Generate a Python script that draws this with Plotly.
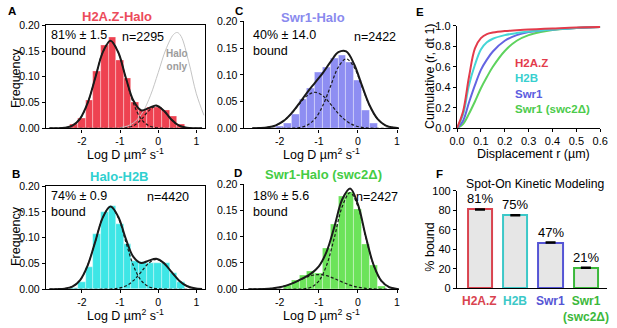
import plotly.graph_objects as go

W, H = 617, 328
FONT = "Liberation Sans, Arial, Helvetica, sans-serif"

# ---------------- data ----------------
bin_centers_AB = [-2.2, -2.0, -1.8, -1.6, -1.4, -1.2, -1.0, -0.8, -0.6, -0.4, -0.2, 0.0, 0.2, 0.4, 0.6]
freq_A = [0.007, 0.019, 0.054, 0.111, 0.161, 0.177, 0.133, 0.098, 0.050, 0.035, 0.041, 0.041, 0.036, 0.024, 0.007]
freq_B = [0.003, 0.014, 0.042, 0.107, 0.149, 0.161, 0.126, 0.087, 0.055, 0.052, 0.050, 0.050, 0.050, 0.031, 0.014]
bin_centers_C = [-2.0, -1.8, -1.6, -1.4, -1.2, -1.0, -0.8, -0.6, -0.4, -0.2, 0.0, 0.2, 0.4]
freq_C = [0.003, 0.010, 0.027, 0.054, 0.075, 0.105, 0.114, 0.131, 0.137, 0.123, 0.089, 0.033, 0.009]
bin_centers_D = [-1.8, -1.6, -1.4, -1.2, -1.0, -0.8, -0.6, -0.4, -0.2, 0.0, 0.2, 0.4, 0.6]
freq_D = [0.008, 0.017, 0.026, 0.034, 0.031, 0.078, 0.124, 0.178, 0.185, 0.152, 0.085, 0.045, 0.005]

fit_x_AB = [-2.85, -2.65, -2.45, -2.25, -2.05, -1.85, -1.65, -1.45, -1.25, -1.05, -0.85,
            -0.65, -0.45, -0.25, -0.05, 0.15, 0.35, 0.55, 0.75, 0.95, 1.15]
fitA_bound = [0, 0.0002, 0.0012, 0.0053, 0.0185, 0.0489, 0.0977, 0.1480, 0.1700, 0.1480, 0.0977,
              0.0489, 0.0185, 0.0053, 0.0012, 0.0002, 0, 0, 0, 0, 0]
fitA_free = [0, 0, 0, 0, 0, 0, 0, 0, 0, 0.0001, 0.0010,
             0.0051, 0.0166, 0.0339, 0.0430, 0.0339, 0.0166, 0.0051, 0.0010, 0.0001, 0]
fitA_total = [0, 0.0002, 0.0012, 0.0053, 0.0185, 0.0489, 0.0977, 0.1480, 0.1700, 0.1481, 0.0987,
              0.0540, 0.0351, 0.0392, 0.0442, 0.0341, 0.0166, 0.0051, 0.0010, 0.0001, 0]
fitB_bound = [0, 0.0002, 0.0011, 0.0050, 0.0174, 0.0460, 0.0920, 0.1394, 0.1600, 0.1394, 0.0920,
              0.0460, 0.0174, 0.0050, 0.0011, 0.0002, 0, 0, 0, 0, 0]
fitB_free = [0, 0, 0, 0, 0, 0, 0, 0.0001, 0.0004, 0.0018, 0.0063,
             0.0167, 0.0334, 0.0505, 0.0580, 0.0505, 0.0334, 0.0167, 0.0063, 0.0018, 0.0004]
fitB_total = [0, 0.0002, 0.0011, 0.0050, 0.0174, 0.0460, 0.0920, 0.1395, 0.1604, 0.1412, 0.0983,
              0.0627, 0.0508, 0.0555, 0.0591, 0.0507, 0.0334, 0.0167, 0.0063, 0.0018, 0.0004]

fit_x_C = [-2.7, -2.5, -2.3, -2.1, -1.9, -1.7, -1.5, -1.3, -1.1, -0.9,
           -0.7, -0.5, -0.3, -0.1, 0.1, 0.3, 0.5, 0.7, 0.9, 1.1]
fitC_bound = [0.0001, 0.0005, 0.0019, 0.0057, 0.0139, 0.0278, 0.0455, 0.0611, 0.0675, 0.0611,
              0.0455, 0.0278, 0.0139, 0.0057, 0.0019, 0.0005, 0.0001, 0, 0, 0]
fitC_free = [0, 0, 0, 0, 0, 0.0003, 0.0014, 0.0057, 0.0176, 0.0422,
             0.0788, 0.1147, 0.1300, 0.1147, 0.0788, 0.0422, 0.0176, 0.0057, 0.0014, 0.0003]
fitC_total = [0.0001, 0.0005, 0.0019, 0.0057, 0.0139, 0.0281, 0.0469, 0.0668, 0.0851, 0.1033,
              0.1243, 0.1425, 0.1439, 0.1204, 0.0807, 0.0427, 0.0177, 0.0057, 0.0014, 0.0003]

fit_x_D = [-2.8, -2.6, -2.4, -2.2, -2.0, -1.8, -1.6, -1.4, -1.2, -1.0, -0.8,
           -0.6, -0.4, -0.2, 0.0, 0.2, 0.4, 0.6, 0.8, 1.0, 1.2]
fitD_bound = [0, 0.0002, 0.0006, 0.0016, 0.0038, 0.0078, 0.0136, 0.0203, 0.0258, 0.0280, 0.0258,
              0.0203, 0.0136, 0.0078, 0.0038, 0.0016, 0.0006, 0.0002, 0, 0, 0]
fitD_free = [0, 0, 0, 0, 0, 0, 0.0001, 0.0007, 0.0039, 0.0156, 0.0459,
             0.0992, 0.1577, 0.1840, 0.1577, 0.0992, 0.0459, 0.0156, 0.0039, 0.0007, 0.0001]
fitD_total = [0, 0.0002, 0.0006, 0.0016, 0.0038, 0.0078, 0.0137, 0.0210, 0.0297, 0.0436, 0.0717,
              0.1195, 0.1713, 0.1918, 0.1615, 0.1008, 0.0465, 0.0158, 0.0039, 0.0007, 0.0001]

halo_x = [-1.0, -0.8, -0.6, -0.4, -0.2, 0.0, 0.2, 0.4, 0.5, 0.6, 0.8, 1.0, 1.2]
halo_y = [0.0014, 0.0047, 0.0135, 0.0321, 0.0643, 0.108, 0.153, 0.182, 0.186, 0.1786, 0.129, 0.067, 0.0252]

disp_r = [0, 0.025, 0.05, 0.075, 0.1, 0.125, 0.15, 0.2, 0.25, 0.3, 0.35, 0.4, 0.5, 0.6]
cum_H2AZ = [0, 0.16, 0.50, 0.78, 0.88, 0.92, 0.935, 0.95, 0.958, 0.965, 0.97, 0.975, 0.985, 0.99]
cum_H2B = [0, 0.13, 0.42, 0.62, 0.77, 0.84, 0.875, 0.91, 0.93, 0.945, 0.956, 0.965, 0.98, 0.99]
cum_Swr1 = [0, 0.07, 0.25, 0.42, 0.57, 0.67, 0.75, 0.855, 0.91, 0.94, 0.955, 0.965, 0.98, 0.99]
cum_swc2 = [0, 0.04, 0.14, 0.26, 0.39, 0.50, 0.60, 0.755, 0.855, 0.91, 0.94, 0.96, 0.98, 0.99]

f_categories = ["H2A.Z", "H2B", "Swr1", "Swr1 (swc2Δ)"]
f_bound = [81, 75, 47, 21]
f_err = [0.6, 0.5, 0.5, 0.5]
f_pct_labels = ["81%", "75%", "47%", "21%"]
f_cat_labels = ["H2A.Z", "H2B", "Swr1", "Swr1<br>(swc2Δ)"]

logd_tickvals = [-2, -1, 0, 1]
logd_ticktext = ["-2", "-1", "0", "1"]

# ---------------- style ----------------
C_RED, C_CYAN, C_BLUE, C_GREEN = "#EE4251", "#3EE6E6", "#8E8EF2", "#6CE35A"
T_RED, T_CYAN, T_BLUE, T_GREEN = "#EC4B5B", "#2FD0D0", "#8A8AEE", "#44CC44"
L_RED, L_CYAN, L_BLUE, L_GREEN = "#E33B4B", "#45D6D6", "#6464E2", "#5ED35E"
O_RED, O_CYAN, O_BLUE, O_GREEN = "#D9434F", "#3CC8C8", "#5555D5", "#3BB83B"


def px(x):
    return x / W


def py(y):
    return 1 - y / H


fig = go.Figure()

panels = [
    ("", "", bin_centers_AB, freq_A, C_RED, fit_x_AB, fitA_bound, fitA_free, fitA_total),
    ("2", "2", bin_centers_AB, freq_B, C_CYAN, fit_x_AB, fitB_bound, fitB_free, fitB_total),
    ("3", "3", bin_centers_C, freq_C, C_BLUE, fit_x_C, fitC_bound, fitC_free, fitC_total),
    ("4", "4", bin_centers_D, freq_D, C_GREEN, fit_x_D, fitD_bound, fitD_free, fitD_total),
]

for xs, ys, bc, fr, col, fx, fb, ff, ft in panels:
    xa, ya = "x" + xs, "y" + ys
    fig.add_trace(go.Bar(x=bc, y=fr, width=0.2, marker=dict(color=col, line=dict(color="rgba(255,255,255,0.55)", width=0.6)),
                         xaxis=xa, yaxis=ya, showlegend=False))
    if xs == "":
        fig.add_trace(go.Scatter(x=halo_x, y=halo_y, mode="lines", line=dict(color="#C4C4C4", width=1, shape="spline"),
                                 xaxis=xa, yaxis=ya, showlegend=False))
    for comp in (fb, ff):
        fig.add_trace(go.Scatter(x=fx, y=comp, mode="lines",
                                 line=dict(color="#1a1a1a", width=1.2, dash="3px,2px", shape="spline"),
                                 xaxis=xa, yaxis=ya, showlegend=False))
    fig.add_trace(go.Scatter(x=fx, y=ft, mode="lines", line=dict(color="#1a1a1a", width=2, shape="spline"),
                             xaxis=xa, yaxis=ya, showlegend=False))

for cy, lc in ((cum_swc2, L_GREEN), (cum_Swr1, L_BLUE), (cum_H2B, L_CYAN), (cum_H2AZ, L_RED)):
    fig.add_trace(go.Scatter(x=disp_r, y=cy, mode="lines", line=dict(color=lc, width=2, shape="spline"),
                             xaxis="x5", yaxis="y5", showlegend=False, cliponaxis=False))

fig.add_trace(go.Bar(x=f_categories, y=f_bound, width=0.69,
                     marker=dict(color="#E6E6E6", line=dict(color=[O_RED, O_CYAN, O_BLUE, O_GREEN], width=2)),
                     error_y=dict(type="data", array=f_err, color="black", thickness=1.5, width=5),
                     xaxis="x6", yaxis="y6", showlegend=False))

axis_common = dict(showline=True, linecolor="black", linewidth=1.4, ticks="outside", ticklen=3, tickwidth=1.1,
                   tickcolor="black", showgrid=False, zeroline=False,
                   tickfont=dict(family=FONT, size=10.5, color="black"))

hx_AB = [px(39), px(202)]
hx_CD = [px(242), px(401)]
layout_axes = {}


def hist_axes(n, xdom, ydom, xr, mirror):
    xk = "xaxis" if n == 1 else "xaxis%d" % n
    yk = "yaxis" if n == 1 else "yaxis%d" % n
    xs = "" if n == 1 else str(n)
    layout_axes[xk] = dict(axis_common, domain=xdom, range=xr, tickvals=logd_tickvals, ticktext=logd_ticktext,
                           anchor="y" + xs, mirror=mirror)
    layout_axes[yk] = dict(axis_common, domain=ydom, range=[0, 0.2], tickvals=[0, 0.05, 0.1, 0.15, 0.2],
                           tickformat=".2f", anchor="x" + xs, mirror=mirror)


hist_axes(1, hx_AB, [py(127), py(20)], [-2.94, 1.22], True)
hist_axes(2, hx_AB, [py(294), py(187)], [-2.94, 1.22], True)
hist_axes(3, hx_CD, [py(127), py(16)], [-2.92, 1.04], False)
hist_axes(4, hx_CD, [py(294), py(185)], [-2.92, 1.04], False)

small_font = dict(family=FONT, size=11, color="black")
layout_axes["xaxis5"] = dict(axis_common, domain=[px(461), px(608)], range=[0, 0.6], dtick=0.1, tickformat=".1f",
                             anchor="y5", tickfont=small_font)
layout_axes["yaxis5"] = dict(axis_common, domain=[py(126.7), py(20.7)], range=[0, 1.0], dtick=0.2, tickformat=".1f",
                             anchor="x5", tickfont=small_font)
layout_axes["xaxis6"] = dict(axis_common, domain=[px(461), px(615)], range=[-0.65, 3.6], type="category",
                             showticklabels=False, ticks="", anchor="y6")
layout_axes["yaxis6"] = dict(axis_common, domain=[py(293), py(192)], range=[0, 100], dtick=20, anchor="x6",
                             tickfont=small_font)

anns = []


def ann(text, x, y, size=12, color="black", bold=False, xanchor="center", angle=0, yanchor="middle"):
    anns.append(dict(text=("<b>%s</b>" % text) if bold else text, x=px(x), y=py(y), xref="paper", yref="paper",
                     showarrow=False, xanchor=xanchor, yanchor=yanchor, textangle=angle, align="left" if xanchor == "left" else "center",
                     font=dict(family=FONT, size=size, color=color)))


# panel letters
for letter, x, y in (("A", 4, 5), ("B", 8, 174), ("C", 237, 5), ("D", 236, 173), ("E", 423, 6), ("F", 443, 174)):
    ann(letter, x, y, size=11.5, bold=True)

# titles
ann("H2A.Z-Halo", 112, 11, 13, T_RED, True)
ann("Swr1-Halo", 313, 12, 13, T_BLUE, True)
ann("Halo-H2B", 114, 177, 13, T_CYAN, True)
ann("Swr1-Halo (swc2Δ)", 324, 175, 13, T_GREEN, True)

# inner texts
ann("81% ± 1.5<br>bound", 42, 38.5, 12.5, xanchor="left")
ann("n=2295", 162, 32, 12.5, xanchor="right")
ann("Halo<br>only", 174, 56.5, 10, "#9C9C9C", True)
ann("40% ± 14.0<br>bound", 249, 38.5, 12.5, xanchor="left")
ann("n=2422", 400, 32, 12.5, xanchor="right")
ann("74% ± 0.9<br>bound", 42, 205, 12.5, xanchor="left")
ann("n=4420", 188, 198, 12.5, xanchor="right")
ann("18% ± 5.6<br>bound", 249, 205.5, 12.5, xanchor="left")
ann("n=2427", 402, 198, 12.5, xanchor="right")

# axis titles
logd = "Log D µm<sup>2</sup> s<sup>-1</sup>"
ann("Frequency", 8, 75, 12.5, angle=-90)
ann("Frequency", 8, 239, 12.5, angle=-90)
ann(logd, 120.5, 154, 12.5)
ann(logd, 322, 154, 12.5)
ann(logd, 120.5, 320.5, 12.5)
ann(logd, 322, 320.5, 12.5)
ann("Cumulative (r, dt 1)", 434, 73, 12.5, angle=-90)
ann("Displacement r (µm)", 540, 154, 12.5)
ann("% bound", 433, 250, 12.5, angle=-90)
ann("Spot-On Kinetic Modeling", 541, 185, 12.2)

# E legend
ann("H2A.Z", 518, 59, 11.5, L_RED, True, xanchor="left")
ann("H2B", 518, 75, 11.5, "#38CFCF", True, xanchor="left")
ann("Swr1", 518, 91, 11.5, "#5C5CE0", True, xanchor="left")
ann("Swr1 (swc2Δ)", 518, 107, 11.5, "#4CCB4C", True, xanchor="left")

# F category labels and percentages
for cat, lab, col in zip(f_categories, f_cat_labels, [O_RED, O_CYAN, O_BLUE, O_GREEN]):
    anns.append(dict(text="<b>%s</b>" % lab, x=cat, y=py(297), xref="x6", yref="paper", showarrow=False,
                     xanchor="center", yanchor="top", font=dict(family=FONT, size=12, color=col)))
for cat, v, lab in zip(f_categories, f_bound, f_pct_labels):
    anns.append(dict(text=lab, x=cat, y=v, xref="x6", yref="y6", showarrow=False, xanchor="center",
                     yanchor="bottom", yshift=1, font=dict(family=FONT, size=13, color="black")))

fig.update_layout(
    width=W, height=H, margin=dict(l=0, r=0, t=0, b=0),
    paper_bgcolor="white", plot_bgcolor="white",
    font=dict(family=FONT, size=11, color="black"),
    bargap=0, showlegend=False, annotations=anns,
    **layout_axes,
)

fig.write_html("out.html", config={"displayModeBar": False},
               post_script="document.body.style.margin='0px';document.body.style.padding='0px';")
